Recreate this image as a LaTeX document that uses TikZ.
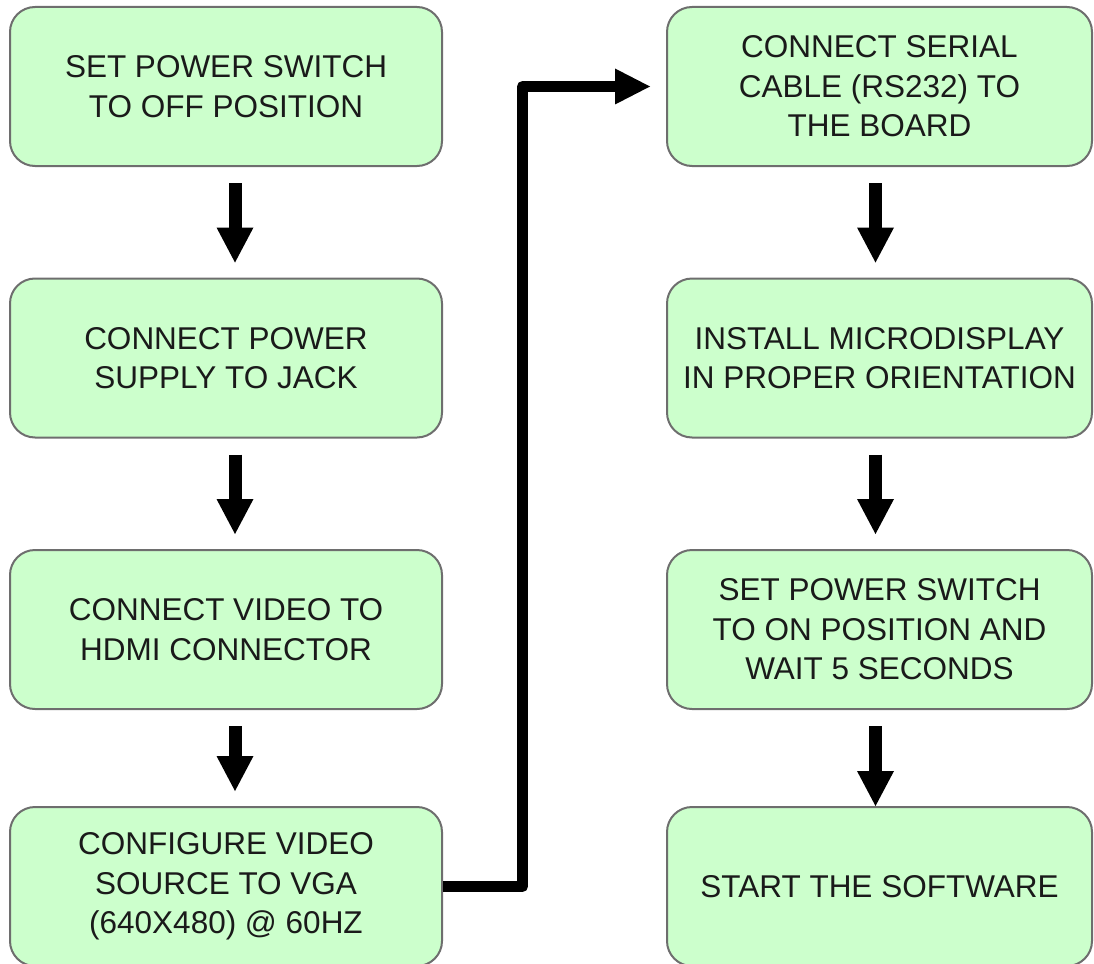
\documentclass[tikz,border=0pt]{standalone}
\usepackage{fontspec}
\setmainfont{Liberation Sans}
\usetikzlibrary{arrows.meta}
\definecolor{boxfill}{HTML}{CCFFCC}
\definecolor{boxline}{HTML}{6E6E6E}
\definecolor{txt}{HTML}{1A1A1A}
\tikzset{
  stepbox/.style={draw=boxline, line width=2pt, fill=boxfill, rounded corners=25pt,
    minimum height=159pt, inner sep=0pt, align=center, text=txt,
    font=\fontsize{31.5pt}{39.5pt}\selectfont},
  leftbox/.style={stepbox, minimum width=432pt},
  rightbox/.style={stepbox, minimum width=425pt},
  downarrow/.style={line width=13pt, -{Triangle[length=35pt,width=37pt,line width=0pt]},
    shorten <=16pt, shorten >=15pt},
  elbow/.style={line width=11pt, line join=round,
    -{Triangle[length=35pt,width=36pt,line width=0pt]}, shorten >=16pt}
}
\begin{document}
\begin{tikzpicture}[x=1pt,y=-1pt]
\useasboundingbox (0,0) rectangle (1094,963);
\clip (0,0) rectangle (1094,963);
\node[leftbox] (l1) at (226,86.5) {SET POWER SWITCH\\TO OFF POSITION};
\node[leftbox] (l2) at (226,358) {CONNECT POWER\\SUPPLY TO JACK};
\node[leftbox] (l3) at (226,629.5) {CONNECT VIDEO TO\\HDMI CONNECTOR};
\node[leftbox] (l4) at (226,886.5) {CONFIGURE VIDEO\\SOURCE TO VGA\\(640X480) @ 60HZ};
\node[rightbox] (r1) at (879.5,86.5) {CONNECT SERIAL\\CABLE (RS232) TO\\THE BOARD};
\node[rightbox] (r2) at (879.5,358) {INSTALL MICRODISPLAY\\IN PROPER ORIENTATION};
\node[rightbox] (r3) at (879.5,629.5) {SET POWER SWITCH\\TO ON POSITION AND\\WAIT 5 SECONDS};
\node[rightbox] (r4) at (879.5,886.5) {START THE SOFTWARE};
\draw[downarrow] ([xshift=9pt]l1.south) -- ([xshift=9pt]l2.north);
\draw[downarrow] ([xshift=9pt]l2.south) -- ([xshift=9pt]l3.north);
\draw[downarrow] ([xshift=9pt]l3.south) -- ([xshift=9pt]l4.north);
\draw[downarrow] ([xshift=-4pt]r1.south) -- ([xshift=-4pt]r2.north);
\draw[downarrow] ([xshift=-4pt]r2.south) -- ([xshift=-4pt]r3.north);
\draw[downarrow, shorten >=0pt] ([xshift=-4pt]r3.south) -- ([xshift=-4pt]r4.north);
\coordinate (bend) at (522.5,886.5);
\draw[elbow] (l4.east) -- (bend) |- (r1.west);
\end{tikzpicture}
\end{document}
